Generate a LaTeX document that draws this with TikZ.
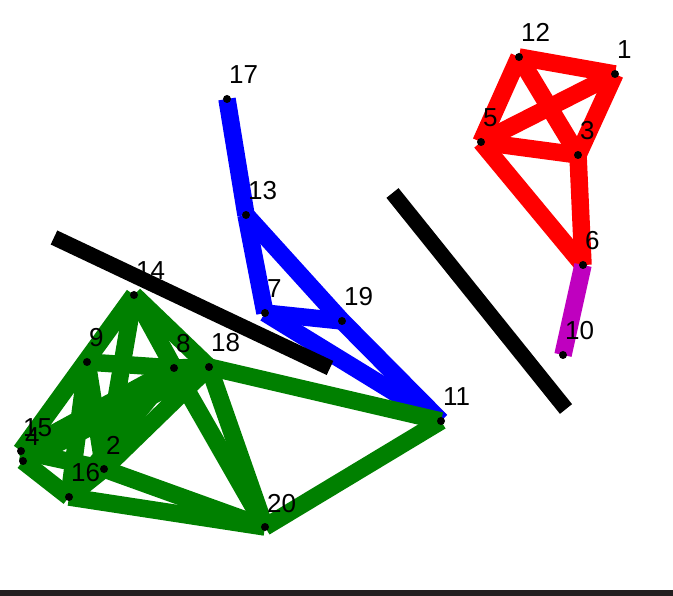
\documentclass[tikz,border=0pt]{standalone}
\usepackage{fontspec}
\setmainfont{Liberation Sans}
\definecolor{gr}{HTML}{008000}
\definecolor{mg}{HTML}{BF00BF}
\definecolor{barcol}{HTML}{231F20}
\pgfdeclarelayer{bg}
\pgfsetlayers{bg,main}
\begin{document}
\begin{tikzpicture}[x=1pt,y=-1pt,
  dot/.style={circle,fill=black,inner sep=0pt,minimum size=8pt},
  lbl/.style={anchor=base west,inner sep=0pt,font=\fontsize{26}{26}\selectfont},
  edge/.style={line width=17.5pt},
  wall/.style={line width=15.5pt,black}]
\useasboundingbox (0,0) rectangle (673,596);
\fill[barcol] (0,590) rectangle (673,596);
% nodes
\foreach \n/\x/\y in {1/615/74,12/519/57,5/481/142,3/578/155,6/583/265,10/563/355,
  17/227/99,13/246/215,7/265/313,19/342/321,11/441/421,
  14/134/295,9/87/362,8/174/368,18/209/367,15/21/451,4/23/461,2/104/469,16/69/497,20/265/527}
{
  \node[dot] (n\n) at (\x,\y) {};
  \node[lbl] (l\n) at ([shift={(2,-15)}]n\n.center) {\n};
}
\coordinate (a1) at (54,237.5);
\coordinate (a2) at (330,368);
\coordinate (b1) at (392.5,193);
\coordinate (b2) at (566,409);
\begin{pgfonlayer}{bg}
\foreach \a/\b in {12/1,12/5,12/3,5/1,1/3,5/3,5/6,3/6}
  \draw[edge,red] (n\a.center) -- (n\b.center);
\draw[edge,mg] (n6.center) -- (n10.center);
\foreach \a/\b in {17/13,13/7,13/19,19/11,7/19,7/11}
  \draw[edge,blue] (n\a.center) -- (n\b.center);
\foreach \a/\b in {14/15,14/2,14/8,14/18,9/8,8/18,9/2,9/16,15/8,15/18,4/18,4/8,15/2,4/16,16/2,16/8,16/20,2/20,18/2,8/20,18/20,18/11,20/11}
  \draw[edge,gr] (n\a.center) -- (n\b.center);
\draw[wall] (a1) -- (a2);
\draw[wall] (b1) -- (b2);
\end{pgfonlayer}
\end{tikzpicture}
\end{document}
